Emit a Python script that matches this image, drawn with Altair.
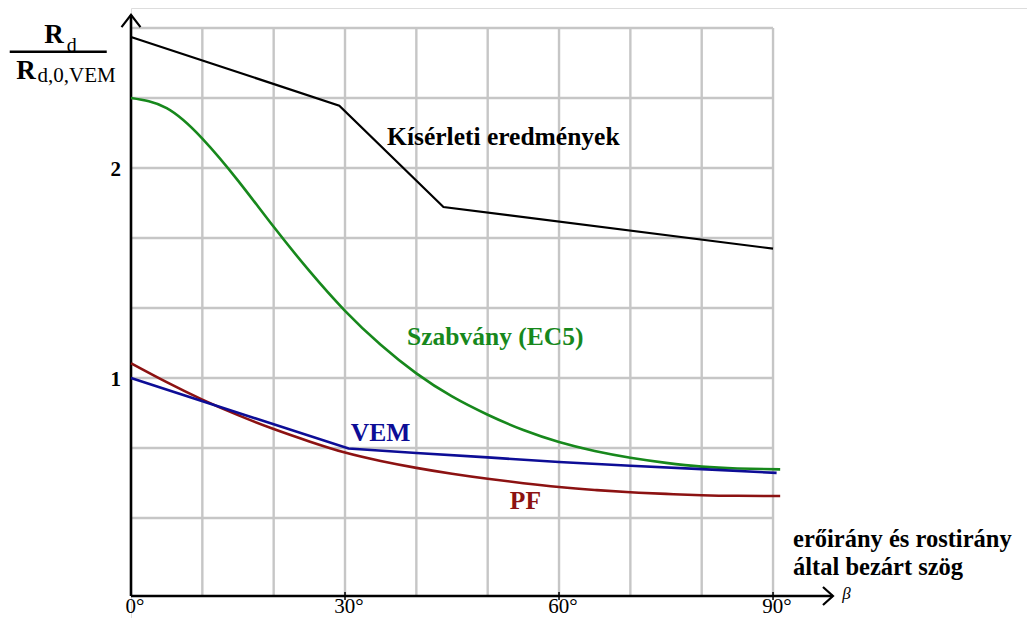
import altair as alt
import pandas as pd

# ---- data (angle in degrees, ratio R_d / R_d,0,VEM)
kiserleti_x = [0, 29.2, 43.8, 90]
kiserleti_y = [2.624, 2.297, 1.814, 1.616]

ec5_x = [0, 5, 10, 15, 20, 25, 30, 35, 40, 45, 50, 55, 60, 65, 70, 75, 80, 85, 91]
ec5_y = [2.333, 2.285, 2.14, 1.94, 1.72, 1.51, 1.32, 1.158, 1.022, 0.912, 0.825,
         0.752, 0.695, 0.652, 0.620, 0.596, 0.578, 0.569, 0.565]

vem_x = [0, 30.5, 40, 50, 60, 70, 80, 90.5]
vem_y = [1.0, 0.664, 0.643, 0.622, 0.600, 0.582, 0.566, 0.548]

pf_x = [0, 5, 10, 15, 20, 25, 30, 35, 40, 45, 50, 55, 60, 65, 70, 75, 80, 85, 91]
pf_y = [1.07, 0.98, 0.897, 0.823, 0.757, 0.698, 0.645, 0.605, 0.572, 0.544, 0.520,
        0.499, 0.481, 0.467, 0.456, 0.448, 0.442, 0.439, 0.438]

x_ticks = [0, 30, 60, 90]
x_tick_labels = ["0°", "30°", "60°", "90°"]
y_ticks = [1, 2]
y_tick_labels = ["1", "2"]
grid_x = [10, 20, 30, 40, 50, 60, 70, 80, 90]
grid_y = [k / 3 for k in range(1, 9)]

# ---- layout
X_MAX = 125.6
Y_MIN, Y_MAX = -0.142857, 2.7619
W, H = 896, 610
FONT = "Liberation Serif"
AXIS_Y = -0.038
GRID_TOP = 8 / 3

xs = alt.Scale(domain=[0, X_MAX], nice=False, zero=False)
ys = alt.Scale(domain=[Y_MIN, Y_MAX], nice=False, zero=False)


def X(f="x"):
    return alt.X(f"{f}:Q", scale=xs, axis=None)


def Y(f="y"):
    return alt.Y(f"{f}:Q", scale=ys, axis=None)


# grid
gh = pd.DataFrame({"y": grid_y, "x": 0, "x2": 90})
gv = pd.DataFrame({"x": grid_x, "y": AXIS_Y, "y2": GRID_TOP})
grid_h = alt.Chart(gh).mark_rule(color="#c6c6c6", strokeWidth=2.4).encode(
    x=X(), x2="x2:Q", y=Y())
grid_v = alt.Chart(gv).mark_rule(color="#c6c6c6", strokeWidth=2.4).encode(
    x=X(), y=Y(), y2="y2:Q")

# axes with arrows
axes_df = pd.DataFrame({
    "x": [0, 0], "x2": [0, 98.4], "y": [AXIS_Y, AXIS_Y], "y2": [2.729, AXIS_Y]})
axes = alt.Chart(axes_df).mark_rule(color="black", strokeWidth=2.6).encode(
    x=X(), x2="x2:Q", y=Y(), y2="y2:Q")

arrow_df = pd.DataFrame({
    "g": ["a", "a", "a", "b", "b", "b"],
    "o": [0, 1, 2, 0, 1, 2],
    "x": [-1.33, 0, 1.33, 97.0, 98.4, 97.0],
    "y": [2.671, 2.729, 2.671, 0.005, AXIS_Y, -0.081]})
arrows = alt.Chart(arrow_df).mark_line(color="black", strokeWidth=2.2).encode(
    x=X(), y=Y(), detail="g:N", order="o:Q")

tick_df = pd.DataFrame({"x": x_ticks[1:], "y": -0.019, "y2": -0.057})
ticks = alt.Chart(tick_df).mark_rule(color="black", strokeWidth=1.5).encode(
    x=X(), y=Y(), y2="y2:Q")


def series(xv, yv, color, width, interp):
    df = pd.DataFrame({"x": xv, "y": yv})
    return alt.Chart(df).mark_line(color=color, strokeWidth=width,
                                   interpolate=interp).encode(x=X(), y=Y())


GREEN = "#17881c"
BLUE = "#0d0d96"
RED = "#8c1212"

l_black = series(kiserleti_x, kiserleti_y, "black", 2.2, "linear")
l_green = series(ec5_x, ec5_y, GREEN, 2.6, "natural")
l_blue = series(vem_x, vem_y, BLUE, 2.6, "linear")
l_red = series(pf_x, pf_y, RED, 2.6, "natural")


def text(df, **kw):
    base = dict(font=FONT, baseline="middle", align="left")
    base.update(kw)
    return alt.Chart(df).mark_text(**base).encode(x=X(), y=Y(), text="t:N")


labels = [
    ("Kísérleti eredmények", 35.9, 2.148, "black", 25.5),
    ("Szabvány (EC5)", 38.7, 1.195, GREEN, 25.5),
    ("VEM", 30.8, 0.738, BLUE, 25.5),
    ("PF", 53.1, 0.414, RED, 25.5),
    ("erőirány és rostirány", 92.8, 0.230, "black", 24.5),
    ("által bezárt szög", 92.8, 0.094, "black", 24.5),
]
label_layers = [
    text(pd.DataFrame({"t": [t], "x": [x], "y": [y]}), fontSize=fs,
         fontWeight="bold", color=c)
    for t, x, y, c, fs in labels
]

beta = text(pd.DataFrame({"t": ["β"], "x": [99.7], "y": [-0.028]}),
            fontSize=17, fontStyle="italic", color="black")

ytick_txt = text(pd.DataFrame({"t": y_tick_labels, "x": -1.4,
                               "y": [v - 0.01 for v in y_ticks]}),
                 align="right", fontSize=21, fontWeight="bold", color="black")
xtick_txt = text(pd.DataFrame({"t": x_tick_labels, "x": x_ticks,
                               "y": -0.0905}),
                 align="center", dx=4, fontSize=21, color="black")

# y-axis title as a fraction
num_R = text(pd.DataFrame({"t": ["R"], "x": [-10.8], "y": [2.633]}),
             align="center", fontSize=27, fontWeight="bold", color="black")
num_d = text(pd.DataFrame({"t": ["d"], "x": [-9.0], "y": [2.581]}),
             fontSize=20, color="black")
den_R = text(pd.DataFrame({"t": ["R"], "x": [-14.72], "y": [2.46]}),
             align="center", fontSize=27, fontWeight="bold", color="black")
den_sub = text(pd.DataFrame({"t": ["d,0,VEM"], "x": [-13.1], "y": [2.436]}),
               fontSize=21, color="black")
frac_df = pd.DataFrame({"x": [-17.0], "x2": [-3.4], "y": [2.554]})
frac = alt.Chart(frac_df).mark_rule(color="black", strokeWidth=2.5).encode(
    x=X(), x2="x2:Q", y=Y())

chart = alt.layer(
    grid_h, grid_v, axes, arrows, ticks,
    l_green, l_red, l_blue, l_black,
    *label_layers, beta, ytick_txt, xtick_txt,
    num_R, num_d, den_R, den_sub, frac,
).properties(
    width=W, height=H,
    padding={"left": 123, "top": 0, "right": 0, "bottom": 0},
    autosize=alt.AutoSizeParams(type="none"),
).configure_view(stroke=None).configure(background="white")

chart.save("out.html", embed_options={"renderer": "svg", "actions": False})
